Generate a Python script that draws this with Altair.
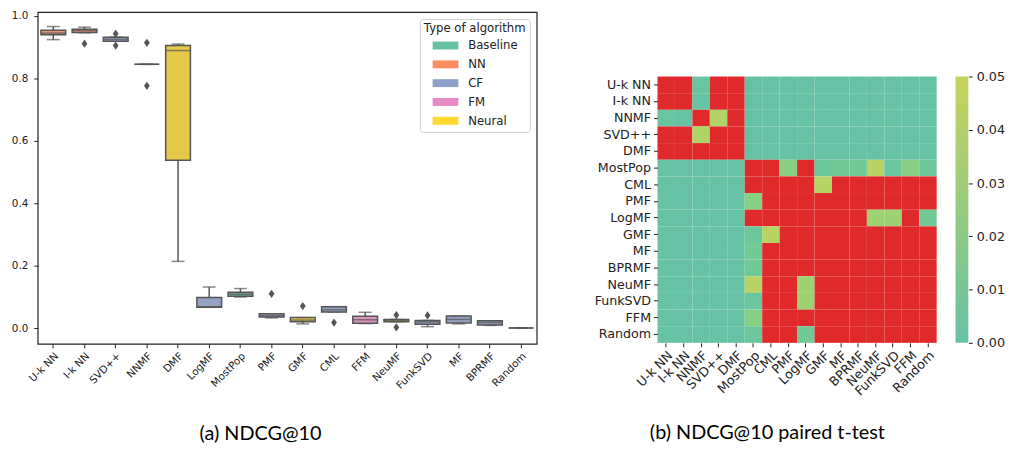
import altair as alt
import pandas as pd

# ---------------- (a) box plot data ----------------
algos = ["U-k NN", "I-k NN", "SVD++", "NNMF", "DMF", "LogMF", "MostPop", "PMF",
         "GMF", "CML", "FFM", "NeuMF", "FunkSVD", "MF", "BPRMF", "Random"]
algo_type = ["NN", "NN", "CF", "CF", "Neural", "CF", "Baseline", "CF",
             "Neural", "CF", "FM", "Neural", "CF", "CF", "CF", "Baseline"]
whisk_lo = [0.924, 0.946, 0.919, 0.845, 0.214, 0.067, 0.100, 0.033, 0.014, 0.052, 0.015, 0.021, 0.005, 0.014, 0.009, 0.001]
q1 =       [0.940, 0.947, 0.919, 0.845, 0.538, 0.067, 0.102, 0.036, 0.021, 0.052, 0.016, 0.021, 0.013, 0.017, 0.010, 0.001]
median =   [0.945, 0.953, 0.925, 0.845, 0.889, 0.069, 0.109, 0.040, 0.026, 0.059, 0.027, 0.025, 0.020, 0.028, 0.018, 0.001]
q3 =       [0.954, 0.957, 0.932, 0.845, 0.905, 0.098, 0.115, 0.046, 0.034, 0.069, 0.038, 0.028, 0.025, 0.039, 0.024, 0.001]
whisk_hi = [0.966, 0.964, 0.932, 0.845, 0.910, 0.132, 0.127, 0.046, 0.034, 0.069, 0.051, 0.028, 0.025, 0.039, 0.024, 0.001]
outlier_algo = ["I-k NN", "SVD++", "SVD++", "NNMF", "NNMF", "PMF", "GMF", "CML", "NeuMF", "NeuMF", "FunkSVD"]
outlier_val = [0.911, 0.943, 0.905, 0.914, 0.776, 0.110, 0.071, 0.018, 0.042, 0.003, 0.041]

types = ["Baseline", "NN", "CF", "FM", "Neural"]
type_colors = ["#66c2a5", "#fc8d62", "#8da0cb", "#e78ac3", "#ffd92f"]
box_colors = ["#71b7a1", "#e99575", "#95a3c3", "#db96c0", "#e5c849"]

# ---------------- (b) paired t-test p-values ----------------
hm_labels = ["U-k NN", "I-k NN", "NNMF", "SVD++", "DMF", "MostPop", "CML", "PMF",
             "LogMF", "GMF", "MF", "BPRMF", "NeuMF", "FunkSVD", "FFM", "Random"]
R = 1.0  # not significant (shown red)
Z = 0.0
p_matrix = [
    [R, R, 0.005, R, R] + [Z] * 11,
    [R, R, 0.001, R, R] + [Z] * 11,
    [0.005, 0.001, R, 0.042, R] + [Z] * 11,
    [R, R, 0.042, R, R] + [Z] * 11,
    [R, R, R, R, R] + [Z] * 11,
    [Z] * 5 + [R, R, 0.025, R, 0.008, 0.013, 0.012, 0.044, 0.006, 0.025, 0.008],
    [Z] * 5 + [R, R, R, R, 0.044, R, R, R, R, R, R],
    [Z] * 5 + [0.025, R, R, R, R, R, R, R, R, R, R],
    [Z] * 5 + [R, R, R, R, R, R, R, 0.035, 0.035, R, 0.012],
    [Z] * 5 + [0.008, 0.044, R, R, R, R, R, R, R, R, R],
    [Z] * 5 + [0.013, R, R, R, R, R, R, R, R, R, R],
    [Z] * 5 + [0.012, R, R, R, R, R, R, R, R, R, R],
    [Z] * 5 + [0.044, R, R, 0.035, R, R, R, R, R, R, R],
    [Z] * 5 + [0.006, R, R, 0.035, R, R, R, R, R, R, R],
    [Z] * 5 + [0.025, R, R, R, R, R, R, R, R, R, R],
    [Z] * 5 + [0.008, R, R, 0.012, R, R, R, R, R, R, R],
]
cbar_ticks = [0, 0.01, 0.02, 0.03, 0.04, 0.05]
cmap_lo, cmap_hi, over_color = "#66c2a5", "#c7d35b", "#e0292b"

GRAY = "#555555"
TXT = "#222222"
FONT = "DejaVu Sans"

box_df = pd.DataFrame({"algo": algos, "type": algo_type, "lo": whisk_lo, "q1": q1,
                       "med": median, "q3": q3, "hi": whisk_hi})
out_df = pd.DataFrame({"algo": outlier_algo, "val": outlier_val})
type_df = pd.DataFrame({"type": types})

xenc = alt.X("algo:N", sort=algos, title=None,
             scale=alt.Scale(paddingInner=0, paddingOuter=0),
             axis=alt.Axis(labelAngle=-45, labelAlign="right", labelBaseline="top",
                           labelFontSize=10.5, tickSize=4, domain=False, labelPadding=3,
                           labelFont=FONT))
yscale = alt.Scale(domain=[-0.05, 1.012], nice=False, zero=False)
yaxis = alt.Axis(values=[0, 0.2, 0.4, 0.6, 0.8, 1.0], format=".1f", grid=False,
                 labelFontSize=10.5, tickSize=4, domain=False, labelPadding=6, labelFont=FONT)

base = alt.Chart(box_df)
whisk = base.mark_rule(color=GRAY, strokeWidth=1.5).encode(
    x=xenc, y=alt.Y("lo:Q", scale=yscale, axis=yaxis, title=None), y2="hi:Q")
caps_lo = base.mark_tick(color=GRAY, size=13, thickness=1.5).encode(x=xenc, y="lo:Q")
caps_hi = base.mark_tick(color=GRAY, size=13, thickness=1.5).encode(x=xenc, y="hi:Q")
boxes = base.mark_bar(size=25, stroke=GRAY, strokeWidth=1.5).encode(
    x=xenc, y="q1:Q", y2="q3:Q",
    fill=alt.Fill("type:N", scale=alt.Scale(domain=types, range=box_colors), legend=None))
meds = base.mark_tick(color=GRAY, size=25, thickness=1.5).encode(x=xenc, y="med:Q")
outs = alt.Chart(out_df).mark_point(
    shape="M0,-1L0.7,0L0,1L-0.7,0Z", filled=True, color=GRAY, size=70, opacity=1
).encode(x=alt.X("algo:N", sort=algos), y="val:Q")
legend_layer = alt.Chart(type_df).mark_square(opacity=0).encode(
    color=alt.Color("type:N", sort=types,
                    scale=alt.Scale(domain=types, range=type_colors),
                    legend=alt.Legend(title="Type of algorithm", orient="top-right", offset=7,
                                      padding=4, strokeColor="#d0d0d0", fillColor="white",
                                      cornerRadius=3, titleFontWeight="normal", titleFontSize=11.8,
                                      titleFont=FONT, labelFont=FONT, labelFontSize=11.8,
                                      titleColor=TXT, labelColor=TXT,
                                      symbolType="M-2.6,-0.8H2.6V0.8H-2.6Z", symbolSize=100,
                                      symbolOffset=16, labelOffset=17, symbolOpacity=1,
                                      symbolStrokeWidth=0, rowPadding=6, titlePadding=5)))

left = alt.layer(whisk, caps_lo, caps_hi, boxes, meds, outs, legend_layer).properties(
    width=504, height=335,
    view=alt.ViewBackground(stroke="#222222", strokeWidth=1.2),
    title=alt.TitleParams("(a) NDCG@10", orient="bottom", anchor="middle", frame="group",
                          dx=-27, offset=34, font="Lato", fontSize=20, fontWeight="normal",
                          color="#000000"))

# ---------------- heatmap ----------------
rows = []
for i, r in enumerate(hm_labels):
    for j, c in enumerate(hm_labels):
        rows.append({"row": r, "col": c, "p": p_matrix[i][j]})
hm_df = pd.DataFrame(rows)

heat = alt.Chart(hm_df).mark_rect().encode(
    x=alt.X("col:N", sort=hm_labels, title=None,
            scale=alt.Scale(paddingInner=0, paddingOuter=0),
            axis=alt.Axis(labelAngle=-45, labelAlign="right", labelBaseline="top",
                          labelFontSize=12.8, tickSize=4, domain=False, labelPadding=2,
                          offset=-2, labelFont=FONT)),
    y=alt.Y("row:N", sort=hm_labels, title=None,
            scale=alt.Scale(range=[65, 334], paddingInner=0, paddingOuter=0),
            axis=alt.Axis(labelFontSize=12.8, tickSize=4, domain=False, labelPadding=3,
                          labelFont=FONT)),
    color=alt.condition(
        "datum.p > 0.05", alt.value(over_color),
        alt.Color("p:Q", scale=alt.Scale(domain=[0, 0.05], range=[cmap_lo, cmap_hi]),
                  legend=None))
).properties(
    width=282, height=336,
    title=alt.TitleParams("(b) NDCG@10 paired t-test", orient="bottom", anchor="middle",
                          frame="group", dx=-30, offset=26, font="Lato", fontSize=20,
                          fontWeight="normal", color="#000000"))

# ---------------- colorbar ----------------
cbar_df = pd.DataFrame({"lo": [cbar_ticks[0]], "hi": [cbar_ticks[-1]]})
cbar = alt.Chart(cbar_df).mark_rect(
    fill=alt.LinearGradient(gradient="linear",
                            stops=[alt.GradientStop(color=cmap_lo, offset=0),
                                   alt.GradientStop(color=cmap_hi, offset=1)],
                            x1=0, x2=0, y1=1, y2=0)
).encode(
    x=alt.value(0), x2=alt.value(13),
    y=alt.Y("lo:Q", title=None,
            scale=alt.Scale(domain=[cbar_ticks[0], cbar_ticks[-1]], range=[334, 65], nice=False),
            axis=alt.Axis(orient="right", values=cbar_ticks, format=".2f", grid=False,
                          domain=False, tickSize=4, labelPadding=4, labelFontSize=12.8,
                          labelFont=FONT)),
    y2="hi:Q"
).properties(width=13, height=336)

chart = alt.hconcat(left, alt.hconcat(heat, cbar, spacing=19), spacing=56).properties(
    padding={"left": 2, "top": 0, "right": 0, "bottom": 0}
).configure(font=FONT).configure_view(strokeWidth=0).configure_axis(
    labelFont=FONT, labelColor=TXT, tickColor=TXT, tickWidth=1
)

chart.save("out.html", embed_options={"renderer": "svg", "actions": False})
